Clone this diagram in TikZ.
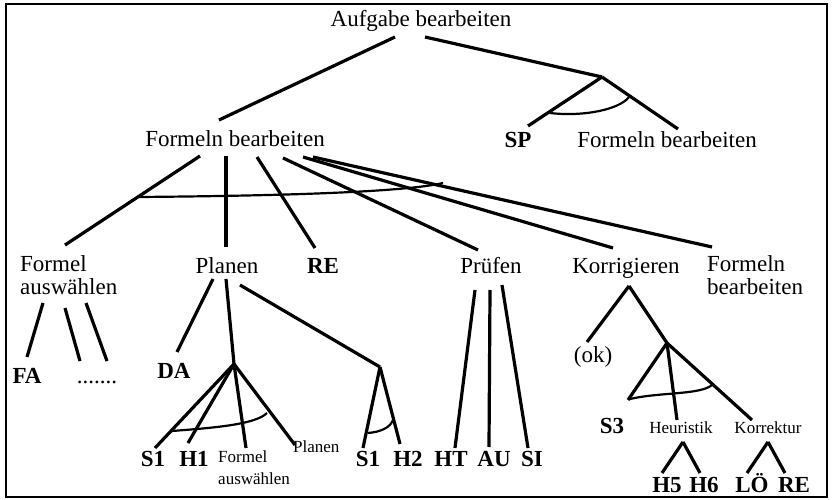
\documentclass[tikz,border=0pt]{standalone}
\usepackage{fontspec}
\setmainfont{Liberation Serif}
\begin{document}
\begin{tikzpicture}[x=1pt,y=-1pt,
  lbl/.style={font=\fontsize{23}{24}\selectfont, inner sep=0pt, anchor=base},
  lblw/.style={lbl, anchor=base west},
  bl/.style={font=\fontsize{23}{24}\selectfont\bfseries, inner sep=0pt, anchor=base},
  sm/.style={font=\fontsize{17}{18}\selectfont, inner sep=0pt, anchor=base},
  smw/.style={sm, anchor=base west},
  edge/.style={line width=3.2pt},
  andarc/.style={line width=2.2pt},
  frame/.style={line width=2.4pt}]
\useasboundingbox (0,0) rectangle (833,500);
\draw[frame] (6,4) rectangle (827,497);

% labels
\node[lbl] (auf) at (421,27) {Aufgabe bearbeiten};
\node[lbl] (fb) at (235,147) {Formeln bearbeiten};
\node[bl] (sp) at (518,148) {SP};
\node[lbl] (fbr) at (667,148) {Formeln bearbeiten};
\node[lblw] (fa1) at (20,271) {Formel};
\node[lblw] (fa2) at (20,294) {auswählen};
\node[lbl] (pl) at (227,273) {Planen};
\node[bl] (re) at (323,273) {RE};
\node[lbl] (pr) at (491,273) {Prüfen};
\node[lbl] (ko) at (626,273) {Korrigieren};
\node[lblw] (fb31) at (707,271) {Formeln};
\node[lblw] (fb32) at (707,294) {bearbeiten};
\node[bl] (fa) at (27,383) {FA};
\node[lbl] (dots) at (97,383) {.......};
\node[bl] (da) at (174,378) {DA};
\node[bl] (s1a) at (153,466) {S1};
\node[bl] (h1) at (194,466) {H1};
\node[smw] (sfa1) at (218,462) {Formel};
\node[smw] (sfa2) at (218,484) {auswählen};
\node[smw] (spl) at (293,452) {Planen};
\node[bl] (s1b) at (368,466) {S1};
\node[bl] (h2) at (408,466) {H2};
\node[bl] (ht) at (451,466) {HT};
\node[bl] (au) at (494,466) {AU};
\node[bl] (si) at (532,466) {SI};
\node[lbl] (ok) at (593,362) {(ok)};
\node[bl] (s3) at (612,433) {S3};
\node[sm] (heu) at (681,433) {Heuristik};
\node[sm] (kor) at (768,433) {Korrektur};
\node[bl] (h5) at (667,492) {H5};
\node[bl] (h6) at (704,492) {H6};
\node[bl] (lo) at (752,492) {LÖ};
\node[bl] (re2) at (794,492) {RE};

% connector end points
\coordinate (aufL) at (395,37);
\coordinate (aufR) at (425,37);
\coordinate (fbT) at (219,120);
\coordinate (j0) at (602,77);
\coordinate (spT) at (528,126);
\coordinate (fbrT) at (678,129);

\draw[edge] (aufL) -- (fbT);
\draw[edge] (aufR) -- (j0);
\draw[edge] (j0) -- (spT);
\draw[edge] (j0) -- (fbrT);
\draw[andarc] (550,113) .. controls (585,117) and (620,109) .. (629,97);

% Formeln bearbeiten children
\coordinate (fb1) at (200,156); \coordinate (fa1T) at (65,245);
\coordinate (fb2) at (226,156); \coordinate (plT) at (226,247);
\coordinate (fb3) at (257,157); \coordinate (reT) at (315,248);
\coordinate (fb4) at (283,158); \coordinate (prT) at (478,250);
\coordinate (fb5) at (303,157); \coordinate (koT) at (613,248);
\coordinate (fb6) at (313,157); \coordinate (fb31T) at (712,247);
\draw[edge] (fb1) -- (fa1T);
\draw[edge] (fb2) -- (plT);
\draw[edge] (fb3) -- (reT);
\draw[edge] (fb4) -- (prT);
\draw[edge] (fb5) -- (koT);
\draw[edge] (fb6) -- (fb31T);
\draw[andarc] (138,197) .. controls (260,196) and (400,193) .. (443,183);

% Formel auswaehlen
\coordinate (fa2a) at (43,303); \coordinate (faT) at (27,357);
\coordinate (fa2b) at (65,308); \coordinate (dotsT1) at (80,361);
\coordinate (fa2c) at (86,303); \coordinate (dotsT2) at (107,361);
\draw[edge] (fa2a) -- (faT);
\draw[edge] (fa2b) -- (dotsT1);
\draw[edge] (fa2c) -- (dotsT2);

% Planen
\coordinate (plB1) at (213,279); \coordinate (daT) at (177,352);
\coordinate (plB2) at (226,279); \coordinate (j1) at (234,364);
\coordinate (plB3) at (240,285); \coordinate (j2) at (380,367);
\draw[edge] (plB1) -- (daT);
\draw[edge] (plB2) -- (j1);
\draw[edge] (plB3) -- (j2);
\coordinate (s1aT) at (155,448); \coordinate (h1T) at (188,443);
\coordinate (sfaT) at (246,448); \coordinate (splT) at (295,445);
\draw[edge] (j1) -- (s1aT);
\draw[edge] (j1) -- (h1T);
\draw[edge] (j1) -- (sfaT);
\draw[edge] (j1) -- (splT);
\draw[andarc] (172,431) .. controls (210,428) and (255,425) .. (267,413);
\coordinate (s1bT) at (363,448); \coordinate (h2T) at (400,444);
\draw[edge] (j2) -- (s1bT);
\draw[edge] (j2) -- (h2T);
\draw[andarc] (368,433) .. controls (380,432) and (390,428) .. (393,420);

% Pruefen
\coordinate (prB1) at (475,290); \coordinate (htT) at (455,448);
\coordinate (prB2) at (490,290); \coordinate (auT) at (489,447);
\coordinate (prB3) at (502,285); \coordinate (siT) at (528,448);
\draw[edge] (prB1) -- (htT);
\draw[edge] (prB2) -- (auT);
\draw[edge] (prB3) -- (siT);

% Korrigieren
\coordinate (koB) at (629,286); \coordinate (okT) at (587,342);
\coordinate (j3) at (667,343);
\coordinate (s3T) at (628,400); \coordinate (heuT) at (677,420);
\coordinate (korT) at (752,420);
\draw[edge] (koB) -- (okT);
\draw[edge] (koB) -- (j3) -- (korT);
\draw[edge] (j3) -- (s3T);
\draw[edge] (j3) -- (heuT);
\draw[andarc] (630,399) .. controls (660,392) and (700,395) .. (712,385);

% Heuristik / Korrektur
\coordinate (heuB) at (683,442); \coordinate (korB) at (768,442);
\coordinate (h5T) at (662,473); \coordinate (h6T) at (700,473);
\coordinate (loT) at (747,473); \coordinate (re2T) at (785,473);
\draw[edge] (heuB) -- (h5T);
\draw[edge] (heuB) -- (h6T);
\draw[edge] (korB) -- (loT);
\draw[edge] (korB) -- (re2T);
\end{tikzpicture}
\end{document}
